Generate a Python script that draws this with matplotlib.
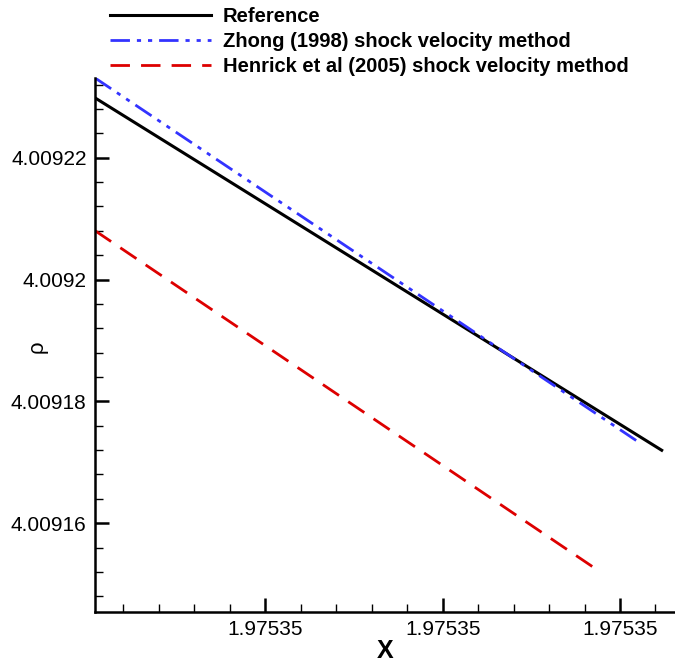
import matplotlib.pyplot as plt
from matplotlib.ticker import MultipleLocator, FuncFormatter

plt.rcParams['font.family'] = ['Liberation Sans', 'DejaVu Sans']

# Data (straight segments)
x_ref = [1.97534808, 1.97535447]
rho_ref = [4.00922984, 4.00917197]

x_zhong = [1.97534808, 1.97535423]
rho_zhong = [4.00923311, 4.00917311]

x_henrick = [1.97534808, 1.97535373]
rho_henrick = [4.00920803, 4.00915246]

fig = plt.figure(figsize=(6.75, 6.64), dpi=100)
ax = fig.add_axes([95 / 675, 52 / 664, 580 / 675, 534 / 664])

ax.plot(x_ref, rho_ref, color='black', lw=2.2, label='Reference')
ax.plot(x_zhong, rho_zhong, color='#3333ff', lw=2.0, dashes=(7, 2.5, 1.5, 2.5, 1.5, 2.5),
        label='Zhong (1998) shock velocity method')
ax.plot(x_henrick, rho_henrick, color='#dd0000', lw=2.0, dashes=(7, 4),
        label='Henrick et al (2005) shock velocity method')

ax.set_xlim(1.97534808, 1.97535462)
ax.set_ylim(4.00914541, 4.0092331)

ax.xaxis.set_major_locator(MultipleLocator(2e-6))
ax.xaxis.set_minor_locator(MultipleLocator(0.4e-6))
ax.yaxis.set_major_locator(MultipleLocator(2e-5))
ax.yaxis.set_minor_locator(MultipleLocator(0.4e-5))
ax.xaxis.set_major_formatter(FuncFormatter(lambda v, p: '%.5f' % v))
ax.yaxis.set_major_formatter(FuncFormatter(lambda v, p: ('%.5f' % v).rstrip('0')))

for s in ['top', 'right']:
    ax.spines[s].set_visible(False)
for s in ['left', 'bottom']:
    ax.spines[s].set_linewidth(1.8)

ax.tick_params(which='major', direction='in', length=10, width=1.8, labelsize=15, pad=6)
ax.tick_params(which='minor', direction='in', length=6, width=1.0)

ax.set_xlabel('X', fontsize=18, fontweight='bold', labelpad=0)
ax.set_ylabel('ρ', fontsize=16)
ax.yaxis.set_label_coords(-47 / 580, 0.496)

ax.legend(loc='upper left', bbox_to_anchor=(110 / 675, 1 - 7 / 664),
          bbox_transform=fig.transFigure, frameon=False,
          prop={'weight': 'bold', 'size': 14.5}, handlelength=5.0, handletextpad=0.6,
          labelspacing=0.3, borderaxespad=0.0, borderpad=0.0)

fig.savefig('out.png', dpi=100)
